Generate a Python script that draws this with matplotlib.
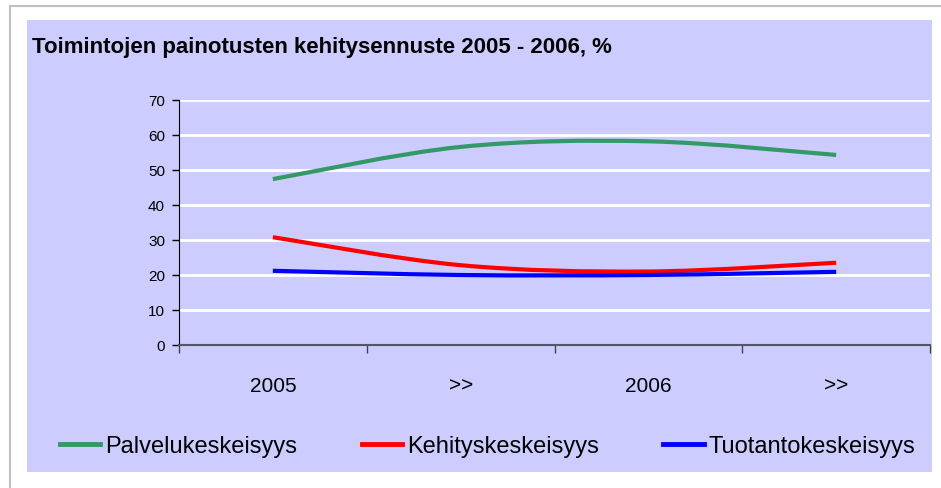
import matplotlib.pyplot as plt
from matplotlib.path import Path
from matplotlib.patches import PathPatch, Rectangle
from matplotlib.lines import Line2D

# data
categories = ['2005', '>>', '2006', '>>']
palvelu = [47.4, 56.6, 58.2, 54.3]
kehitys = [30.8, 22.8, 21.0, 23.5]
tuotanto = [21.2, 20.0, 20.0, 20.9]

series_names = ['Palvelukeskeisyys', 'Kehityskeskeisyys', 'Tuotantokeskeisyys']
series_colors = ['#339966', '#ff0000', '#0000ff']

plt.rcParams['font.family'] = ['Liberation Sans', 'DejaVu Sans']

W, H = 941, 489


def smooth_path(xs, ys):
	# excel style smoothed line: bezier segments with catmull-rom control points
	pts = list(zip(xs, ys))
	n = len(pts)
	verts = [pts[0]]
	codes = [Path.MOVETO]
	for i in range(n - 1):
		p0 = pts[i - 1] if i > 0 else pts[i]
		p1 = pts[i]
		p2 = pts[i + 1]
		p3 = pts[i + 2] if i + 2 < n else pts[i + 1]
		c1 = (p1[0] + (p2[0] - p0[0]) / 6, p1[1] + (p2[1] - p0[1]) / 6)
		c2 = (p2[0] - (p3[0] - p1[0]) / 6, p2[1] - (p3[1] - p1[1]) / 6)
		verts += [c1, c2, p2]
		codes += [Path.CURVE4] * 3
	return Path(verts, codes)


fig = plt.figure(figsize=(W / 100, H / 100), dpi=100)
fig.patch.set_facecolor('white')

# outer grey frame and lavender chart area
fig.add_artist(Line2D([10 / W, 1], [1 - 7 / H, 1 - 7 / H], color='#c0c0c0', lw=1.5))
fig.add_artist(Line2D([10 / W, 10 / W], [0, 1 - 7 / H], color='#c0c0c0', lw=1.5))
fig.add_artist(Rectangle((27 / W, 16 / H), 905 / W, 452 / H, facecolor='#ccccff',
	edgecolor='none', zorder=-1))

fig.text(32 / W, 1 - 47 / H, 'Toimintojen painotusten kehitysennuste 2005 - 2006, %',
	fontsize=16, fontweight='bold', va='center', ha='left')

ax = fig.add_axes([179 / W, (H - 346) / H, (930 - 179) / W, (346 - 101) / H])
ax.set_facecolor('none')

x = list(range(len(categories)))
for vals, color in zip([palvelu, kehitys, tuotanto], series_colors):
	ax.add_patch(PathPatch(smooth_path(x, vals), fill=False, edgecolor=color,
		lw=3, capstyle='butt', zorder=3))

ax.set_xlim(-0.5, 3.5)
ax.set_ylim(0, 70)
ax.set_yticks(range(0, 71, 10))
ax.grid(axis='y', color='white', lw=2)
ax.set_axisbelow(True)

ax.set_xticks([-0.5, 0.5, 1.5, 2.5, 3.5])
ax.set_xticklabels([])
ax.set_xticks(x, minor=True)
ax.set_xticklabels(categories, minor=True, fontsize=15)
ax.tick_params(axis='x', which='major', length=6, width=1, color='#444444', direction='out')
ax.tick_params(axis='x', which='minor', length=0, pad=22)
ax.tick_params(axis='y', length=5, width=1, labelsize=11, pad=5)

for s in ['top', 'right']:
	ax.spines[s].set_visible(False)
ax.spines['left'].set_color('black')
ax.spines['bottom'].set_color('#555566')
ax.spines['bottom'].set_linewidth(1.5)

handles = [Line2D([], [], color=c, lw=3.5) for c in series_colors]
fig.legend(handles, series_names, loc='center left', bbox_to_anchor=(60 / W, 1 - 447 / H),
	ncol=3, frameon=False, fontsize=17, handlelength=1.7, handletextpad=0.2,
	columnspacing=2.75, borderpad=0, borderaxespad=0)

fig.savefig('out.png', dpi=100)
